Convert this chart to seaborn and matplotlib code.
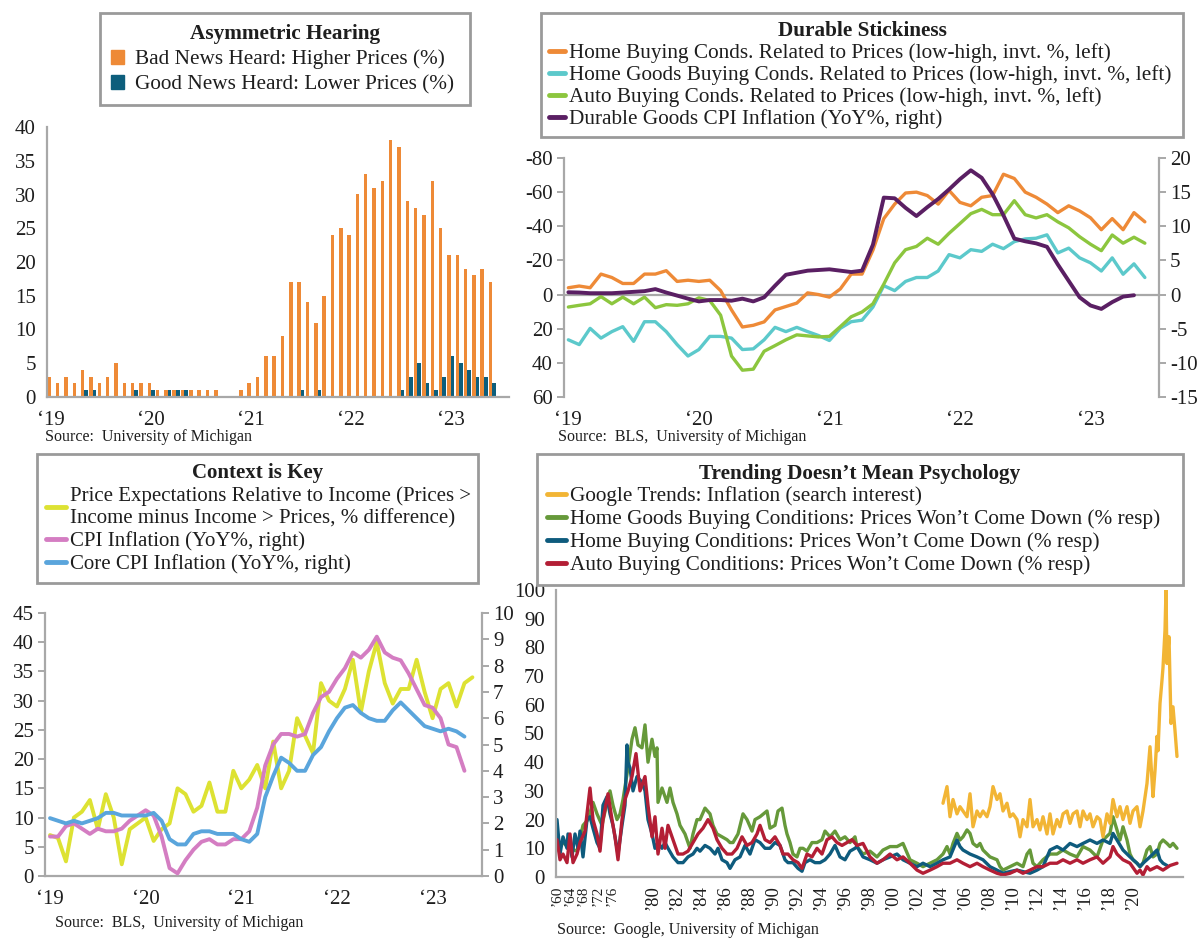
import numpy as np
import pandas as pd
import matplotlib
matplotlib.use("Agg")
import matplotlib.pyplot as plt
import seaborn as sns
from matplotlib.lines import Line2D
from matplotlib.patches import Patch

sns.set_theme(style="white")
plt.rcParams['font.family'] = ['Liberation Serif', 'DejaVu Serif']
plt.rcParams['axes.unicode_minus'] = False

# ---------------- DATA ----------------
# Panel 1: Asymmetric Hearing (monthly, Jan 2019 - Jun 2023)
p1_months = [d.strftime("%Y-%m") for d in pd.date_range("2019-01-01", periods=54, freq="MS")]
bad_news = [3, 2, 3, 2, 4, 3, 2, 3, 5, 2, 2, 2, 2, 1, 1, 1, 1, 1, 1, 1, 1, 0, 0, 1, 2, 3, 6, 6, 9, 17,
            17, 14, 11, 15, 24, 25, 24, 30, 33, 31, 32, 38, 37, 29, 28, 27, 32, 25, 21, 21, 19, 18, 19, 17]
good_news = [0, 0, 0, 0, 1, 1, 0, 0, 0, 0, 1, 0, 1, 0, 1, 1, 1, 0, 0, 0, 0, 0, 0, 0, 0, 0, 0, 0, 0, 0,
             1, 0, 1, 0, 0, 0, 0, 0, 0, 0, 0, 0, 1, 3, 5, 2, 1, 3, 6, 5, 4, 3, 3, 2]
year_labels = ['\u201819', '\u201820', '\u201821', '\u201822', '\u201823']

# Panel 2: Durable Stickiness (left axis inverted)
home_buy = [-4, -5, -4, -12, -10, -6.5, -6.5, -12, -12, -14, -7.7, -8.4, -7.7, -8.4, -2.3, 9, 19, 18, 16, 9,
            7, 5, -1, 0, 1.5, -3.3, -12, -12, -26, -44.5, -53, -59.5, -60, -58, -53, -61, -54, -52, -57, -58,
            -70.5, -68, -60, -57, -53, -48, -52, -49, -45, -38, -44.5, -38, -48, -42.6]
home_goods = [26.5, 29.3, 19.8, 25.5, 21.7, 18.8, 27.4, 15.9, 15.9, 21.7, 29.3, 36, 32.2, 24.5, 24.5, 25.5,
              32.2, 31.8, 26.5, 19.2, 21.7, 19.2, 21.7, 24, 26.9, 19.8, 15.9, 15, 7.3, -5.2, -2.3, -7.7, -10,
              -10, -13.8, -23.4, -21.5, -26.3, -25.3, -29.5, -26.9, -31, -32.6, -33, -35, -24.4, -27.2, -21.5,
              -18.6, -13.8, -21.5, -11.9, -18, -10]
auto_buy = [7.3, 6.3, 5.4, 1.2, 5.4, 1.5, 5.4, 1.5, 7.7, 5.9, 6.3, 5.4, 1.9, 3.5, 12.1, 36, 44.3, 43.7, 33.2,
            29.9, 26.5, 23.6, 24.2, 24.8, 24.5, 18.8, 13, 10.2, 5.4, -6.1, -18.6, -26.3, -28.2, -33, -29.5,
            -35.9, -41.6, -47.4, -49.9, -46.8, -46.8, -55, -46.8, -44.9, -46.8, -42.6, -39.1, -33.9, -29.5,
            -25.7, -34.9, -30.1, -33.6, -30.1]
durable_cpi = [0.34, 0.3, 0.2, 0.2, 0.2, 0.3, 0.4, 0.5, 0.8, 0.3, -0.15, -0.6, -1.0, -0.8, -0.8, -0.9, -0.6,
               -1.0, -0.4, 1.3, 2.9, 3.2, 3.5, 3.6, 3.7, 3.5, 3.3, 3.5, 7.3, 14.2, 14.1, 12.7, 11.5, 12.8, 14,
               15.4, 16.9, 18.2, 17.1, 14.7, 11.6, 8.2, 7.8, 7.5, 7.0, 4.4, 2.0, -0.4, -1.6, -2.1, -1.1, -0.3, -0.1]

# Panel 3: Context is Key
price_exp = [7, 6.5, 2.5, 10, 11, 13, 8, 14, 10, 2, 8, 9, 10, 6, 8, 9, 15, 14, 11, 12, 16, 11, 11, 18, 15,
             16.5, 19, 15, 23, 15, 18, 27, 24, 21, 33, 30, 29, 32, 37, 28, 35, 40, 33, 29.5, 32, 32, 37, 31.5,
             27, 32, 33, 29, 33, 34]
cpi = [1.5, 1.5, 1.9, 2.0, 1.8, 1.6, 1.8, 1.7, 1.7, 1.8, 2.1, 2.3, 2.5, 2.3, 1.5, 0.3, 0.1, 0.6, 1.0, 1.3,
       1.4, 1.2, 1.2, 1.4, 1.4, 1.7, 2.6, 4.2, 5.0, 5.4, 5.4, 5.3, 5.4, 6.2, 6.8, 7.0, 7.5, 7.9, 8.5, 8.3,
       8.6, 9.1, 8.5, 8.3, 8.2, 7.7, 7.1, 6.5, 6.4, 6.0, 5.0, 4.9, 4.0]
core_cpi = [2.2, 2.1, 2.0, 2.1, 2.0, 2.1, 2.2, 2.4, 2.4, 2.3, 2.3, 2.3, 2.3, 2.4, 2.1, 1.4, 1.2, 1.2, 1.6,
            1.7, 1.7, 1.6, 1.6, 1.6, 1.4, 1.3, 1.6, 3.0, 3.8, 4.5, 4.3, 4.0, 4.0, 4.6, 4.9, 5.5, 6.0, 6.4,
            6.5, 6.2, 6.0, 5.9, 5.9, 6.3, 6.6, 6.3, 6.0, 5.7, 5.6, 5.5, 5.6, 5.5, 5.3]

# Panel 4: Trending Doesn't Mean Psychology (x = survey observation number)
home_goods_wont = [(1, 10), (7, 12), (14, 10), (21, 9), (27, 18), (32, 20), (37, 26), (41, 22), (46, 18),
    (51, 26), (54, 30), (57, 25), (61, 20), (64, 22), (67, 27), (72, 38), (76, 48), (79, 52), (82, 46),
    (86, 45), (89, 53), (92, 40), (96, 48), (99, 42), (101, 45), (102, 26), (106, 31), (111, 26), (114, 31),
    (117, 26), (121, 22), (124, 18), (129, 15), (134, 10), (137, 15), (141, 20), (144, 20), (149, 24),
    (154, 22), (157, 18), (161, 15), (166, 14), (171, 13), (174, 12), (177, 12), (182, 15), (187, 22),
    (191, 20), (196, 16), (199, 20), (204, 21), (211, 23), (214, 17), (219, 18), (222, 23), (226, 24),
    (229, 18), (231, 15), (234, 12), (237, 8), (241, 7), (244, 10), (247, 10), (251, 9), (256, 12),
    (261, 12), (266, 13), (269, 16), (274, 14), (279, 16), (284, 13), (289, 14), (294, 12), (299, 14),
    (301, 10.6), (307, 8), (314, 9), (321, 7), (327, 9.4), (334, 10.6), (341, 10.6), (347, 11.7), (354, 6),
    (361, 4.8), (367, 3.6), (374, 4.8), (381, 6), (387, 8), (391, 10.6), (394, 8), (397, 11.7), (401, 15.2),
    (404, 12.9), (407, 14), (411, 16.4), (414, 15.2), (417, 11.7), (421, 10.6), (424, 11.7), (427, 9.4),
    (434, 7), (441, 6), (444, 3.6), (447, 2.4), (454, 3.6), (461, 4.8), (467, 3.6), (471, 8), (474, 9.4),
    (477, 4.8), (481, 3.6), (487, 6), (494, 8), (501, 8), (507, 9.4), (514, 8), (521, 7), (527, 10.6),
    (534, 9.4), (541, 7), (547, 12.9), (554, 15.2), (557, 21), (561, 16.4), (564, 12.9), (567, 17.5),
    (571, 12.9), (574, 8), (577, 6), (581, 4.8), (584, 3.6), (587, 4.8), (591, 9.4), (594, 10.6), (597, 7),
    (601, 8), (604, 11.7), (607, 12.9), (611, 11.7), (614, 10.6), (617, 11.7), (621, 10)]
home_wont = [(1, 20), (4, 8), (7, 14), (11, 10), (12, 15), (16, 7), (19, 15), (22, 10), (24, 16), (27, 7),
    (31, 20), (34, 21), (37, 17), (41, 12), (44, 10), (47, 25), (51, 28), (54, 22), (57, 18), (59, 14),
    (62, 8), (66, 18), (69, 25), (71, 46), (72, 40), (74, 38), (77, 30), (81, 35), (86, 33), (89, 30),
    (92, 20), (96, 15), (99, 10), (102, 12), (106, 10), (109, 12), (112, 10), (117, 7), (122, 5), (127, 5),
    (132, 7), (137, 8), (141, 10), (144, 9), (149, 11), (154, 10), (159, 8), (162, 10), (166, 6), (171, 5),
    (174, 3), (179, 6), (184, 7), (189, 11), (194, 8), (199, 13), (204, 12), (209, 10), (214, 10),
    (219, 12), (224, 11), (229, 6), (232, 5), (237, 5), (242, 3), (246, 2), (249, 5), (254, 6), (259, 5),
    (264, 5), (269, 6), (274, 8), (279, 11), (284, 7), (289, 6), (294, 9), (299, 10), (301, 10.6), (307, 7),
    (314, 6), (321, 4.8), (327, 6), (334, 7), (341, 8), (347, 6), (354, 4.8), (361, 3.6), (367, 4.8),
    (374, 3.6), (381, 4.8), (387, 6), (394, 7), (401, 12.9), (404, 10.6), (407, 9.4), (414, 8), (421, 7),
    (427, 6), (434, 3.6), (441, 2.4), (447, 1.3), (454, 1.9), (461, 2.4), (467, 1.9), (474, 1.3),
    (481, 2.4), (487, 3.6), (494, 9.4), (501, 10.6), (507, 9.4), (514, 11.7), (521, 10.6), (527, 11.7),
    (534, 12.9), (541, 11.7), (547, 12.9), (554, 11.7), (557, 15.2), (561, 12.9), (567, 9.4), (574, 7),
    (581, 4.8), (584, 3.6), (587, 4.8), (594, 7), (601, 9.4), (604, 6), (607, 4.8), (611, 4)]
auto_wont = [(1, 13), (4, 6), (7, 8), (11, 5), (14, 15), (17, 5), (21, 8), (24, 12), (29, 16), (34, 31),
    (37, 20), (41, 15), (44, 9), (47, 20), (52, 29), (56, 20), (59, 14), (62, 6), (66, 20), (69, 27),
    (72, 30), (76, 35), (80, 43), (84, 30), (89, 35), (92, 25), (96, 14), (99, 21), (102, 8), (106, 17),
    (109, 10), (112, 18), (117, 13), (122, 8), (127, 8), (132, 9), (137, 12), (142, 15), (147, 17),
    (152, 20), (157, 17), (161, 13), (166, 10), (171, 8), (176, 8), (181, 10), (186, 14), (191, 11),
    (196, 12), (201, 15), (204, 18), (209, 13), (214, 12), (219, 14), (224, 11), (227, 8), (232, 8),
    (237, 6), (242, 5), (246, 3), (251, 8), (256, 7), (261, 10), (266, 8), (271, 13), (276, 14), (281, 12),
    (286, 11), (291, 12), (296, 13), (301, 11), (307, 11.7), (314, 7), (321, 4.8), (327, 6), (334, 8),
    (341, 6), (347, 7), (354, 4.8), (361, 2.4), (367, 1.3), (374, 2.4), (381, 3.6), (387, 4.8), (394, 4.8),
    (401, 6), (407, 4.8), (414, 3.6), (421, 4.8), (427, 3.6), (434, 2.4), (441, 1.3), (447, 0.7),
    (454, 1.3), (461, 2.4), (467, 1.3), (474, 2.4), (481, 3.6), (487, 3.6), (494, 4.8), (501, 4.8),
    (507, 6), (514, 4.8), (521, 6), (527, 4.8), (534, 6), (541, 7), (547, 4.8), (554, 7), (557, 10.6),
    (561, 8), (567, 6), (574, 4.8), (581, 1.3), (584, 2.4), (587, 0.7), (591, 3.6), (594, 2.4), (601, 3.6),
    (607, 2.4), (614, 4), (621, 4.8)]
google_trends = [(387, 25.7), (391, 31.5), (394, 21), (397, 27), (401, 22), (404, 24.5), (407, 23), (411, 21),
    (414, 29), (417, 17.5), (421, 23), (424, 21), (427, 23), (431, 21), (434, 24.5), (437, 31.5), (441, 27),
    (444, 29), (447, 23), (451, 25.7), (454, 21), (457, 22), (461, 20), (464, 14), (467, 20), (471, 17.5),
    (474, 27), (477, 17.5), (481, 20), (484, 16.4), (487, 21), (491, 15), (494, 22), (497, 15), (501, 20),
    (504, 17.5), (507, 22), (511, 23), (514, 18.7), (517, 22), (521, 23), (524, 17.5), (527, 23), (531, 20),
    (534, 22), (537, 17.5), (541, 21), (544, 20), (547, 14), (551, 22), (554, 18.7), (557, 27), (561, 21),
    (564, 24.5), (567, 20), (571, 24.5), (574, 18.7), (577, 23), (581, 24.5), (584, 17.5), (587, 23),
    (591, 32.6), (594, 45.4), (596, 33.8), (597, 28), (599, 37), (601, 49), (602, 44), (604, 60.5),
    (606, 68.6), (607, 73), (609, 86), (610, 100), (611, 74.4), (613, 83.7), (615, 53.5), (617, 59.3),
    (619, 51), (621, 42)]
p4_tick_obs = [1, 14, 27, 42, 56, 97, 121, 145, 169, 193, 217, 241, 265, 289, 313, 337, 361, 385, 409,
               433, 457, 481, 505, 529, 553, 577]
p4_tick_labels = ['\u2019' + y for y in ['60', '64', '68', '72', '76', '80', '82', '84', '86', '88', '90',
                  '92', '94', '96', '98', '00', '02', '04', '06', '08', '10', '12', '14', '16', '18', '20']]

# ---------------- STYLE ----------------
W, H = 1200, 946
GRAY = '#A8A8A8'
TXT = '#1e1e1e'
C_ORANGE = '#EE8A37'
C_TEAL = '#0D5E7C'
C_CYAN = '#5CC9CB'
C_LGREEN = '#8CC63E'
C_PURPLE = '#5A1F63'
C_YELLOW = '#DDE233'
C_PINK = '#D47DC2'
C_BLUE = '#5AA5DC'
C_GOLD = '#F2B535'
C_GREEN = '#66993A'
C_NAVY = '#0E5B7D'
C_RED = '#B31E35'
TICK_FS = 15
LEG_FS = 15.3
SRC_FS = 11.5
XPAD = 10

fig = plt.figure(figsize=(12, 9.46), dpi=100)


def rect(x0, y0, x1, y1):
    return [x0 / W, 1 - y1 / H, (x1 - x0) / W, (y1 - y0) / H]


def style_ax(ax, left=True, right=False, bottom=True):
    for s in ['top', 'right', 'left', 'bottom']:
        ax.spines[s].set_visible(False)
    for s, on in [('left', left), ('right', right), ('bottom', bottom)]:
        if on:
            ax.spines[s].set_visible(True)
            ax.spines[s].set_color(GRAY)
            ax.spines[s].set_linewidth(1.6)
    ax.tick_params(axis='y', which='both', direction='out', length=5, width=1.4, color=GRAY,
                   labelsize=TICK_FS, labelcolor=TXT, pad=3)
    ax.tick_params(axis='x', length=0, labelsize=TICK_FS, labelcolor=TXT, pad=XPAD)
    ax.set_xlabel('')
    ax.set_ylabel('')
    ax.grid(False)


def box_legend(ax, handles, labels, title, x0, y0, x1, y1, hl=0.9, hh=0.7, ls=0.14, bp=0.45,
               tp=0.2, fs=LEG_FS):
    leg = ax.legend(handles, labels, title=title, loc='upper left',
                    bbox_to_anchor=(x0 / W, 1 - y1 / H, (x1 - x0) / W, (y1 - y0) / H),
                    bbox_transform=fig.transFigure, mode='expand', borderaxespad=0,
                    fontsize=fs, title_fontproperties={'weight': 'bold', 'size': fs},
                    handlelength=hl, handleheight=hh, handletextpad=tp, labelspacing=ls,
                    borderpad=bp, fancybox=False, framealpha=1, alignment='center')
    fr = leg.get_frame()
    fr.set_edgecolor('#9A9A9A')
    fr.set_linewidth(2)
    fr.set_facecolor('white')
    for t in leg.get_texts():
        t.set_color(TXT)
    leg.get_title().set_color(TXT)
    leg.set_zorder(10)
    return leg


# ---------------- PANEL 1 ----------------
ax1 = fig.add_axes(rect(47, 127, 509, 397))
df1 = pd.DataFrame({
    'month': p1_months * 2,
    'series': ['Bad News Heard: Higher Prices (%)'] * len(p1_months) +
              ['Good News Heard: Lower Prices (%)'] * len(p1_months),
    'value': bad_news + good_news,
})
sns.barplot(data=df1, x='month', y='value', hue='series', palette=[C_ORANGE, C_TEAL],
            saturation=1, width=0.85, linewidth=0, ax=ax1, legend=False)
ax1.set_xlim(-0.5, 55)
ax1.set_ylim(0, 40)
ax1.set_yticks(range(0, 41, 5))
ax1.set_xticks([0, 12, 24, 36, 48])
ax1.set_xticklabels(year_labels)
style_ax(ax1, left=True, bottom=True)
box_legend(ax1, [Patch(color=C_ORANGE), Patch(color=C_TEAL)],
           ['Bad News Heard: Higher Prices (%)', 'Good News Heard: Lower Prices (%)'],
           'Asymmetric Hearing', 100, 13, 470, 107, hl=0.65, hh=0.65, ls=0.27, bp=0.5, tp=0.5)
fig.text(45 / W, 1 - 429 / H, 'Source:  University of Michigan', fontsize=SRC_FS, color=TXT, va='top')

# ---------------- PANEL 2 ----------------
ax2 = fig.add_axes(rect(564, 158, 1159, 397))
m54 = np.arange(len(home_buy))
sns.lineplot(x=m54, y=home_goods, color=C_CYAN, lw=2.4, ax=ax2)
sns.lineplot(x=np.arange(len(auto_buy)), y=auto_buy, color=C_LGREEN, lw=2.4, ax=ax2)
sns.lineplot(x=m54, y=home_buy, color=C_ORANGE, lw=2.4, ax=ax2)
ax2.axhline(0, color=GRAY, lw=1.6, zorder=0.5)
ax2.set_ylim(60, -80)
ax2.set_yticks(range(-80, 61, 20))
ax2.set_xlim(-0.4, 54.3)
ax2.set_xticks([0, 12, 24, 36, 48])
ax2.set_xticklabels(year_labels)
style_ax(ax2, left=True, right=True, bottom=False)
ax2r = ax2.twinx()
sns.lineplot(x=np.arange(len(durable_cpi)), y=durable_cpi, color=C_PURPLE, lw=2.8, ax=ax2r)
ax2r.set_ylim(-15, 20)
ax2r.set_yticks(range(-15, 21, 5))
ax2r.set_xlim(-0.4, 54.3)
for s in ['top', 'left', 'bottom', 'right']:
    ax2r.spines[s].set_visible(False)
ax2r.tick_params(axis='y', direction='out', length=5, width=1.4, color=GRAY, labelsize=TICK_FS,
                 labelcolor=TXT, pad=3)
ax2r.set_ylabel('')
ax2r.grid(False)
box_legend(ax2, [Line2D([], [], color=c, lw=3.5) for c in [C_ORANGE, C_CYAN, C_LGREEN, C_PURPLE]],
           ['Home Buying Conds. Related to Prices (low-high, invt. %, left)',
            'Home Goods Buying Conds. Related to Prices (low-high, invt. %, left)',
            'Auto Buying Conds. Related to Prices (low-high, invt. %, left)',
            'Durable Goods CPI Inflation (YoY%, right)'],
           'Durable Stickiness', 541, 13, 1183, 137, hl=0.75, ls=0.1, bp=0.38)
fig.text(558 / W, 1 - 429 / H, 'Source:  BLS,  University of Michigan', fontsize=SRC_FS, color=TXT, va='top')

# ---------------- PANEL 3 ----------------
ax3 = fig.add_axes(rect(45, 613, 482, 876))
sns.lineplot(x=np.arange(len(price_exp)), y=price_exp, color=C_YELLOW, lw=2.8, ax=ax3)
ax3.set_ylim(0, 45)
ax3.set_yticks(range(0, 46, 5))
ax3.set_xlim(-0.63, 54.2)
ax3.set_xticks([0, 12, 24, 36, 48])
ax3.set_xticklabels(year_labels)
style_ax(ax3, left=True, right=True, bottom=True)
ax3r = ax3.twinx()
sns.lineplot(x=np.arange(len(cpi)), y=cpi, color=C_PINK, lw=2.8, ax=ax3r)
sns.lineplot(x=np.arange(len(core_cpi)), y=core_cpi, color=C_BLUE, lw=2.8, ax=ax3r)
ax3r.set_ylim(0, 10)
ax3r.set_yticks(range(0, 11, 1))
ax3r.set_xlim(-0.63, 54.2)
for s in ['top', 'left', 'bottom', 'right']:
    ax3r.spines[s].set_visible(False)
ax3r.tick_params(axis='y', direction='out', length=5, width=1.4, color=GRAY, labelsize=TICK_FS,
                 labelcolor=TXT, pad=3)
ax3r.set_ylabel('')
ax3r.grid(False)
box_legend(ax3, [Line2D([], [], color=c, lw=3.5) for c in [C_YELLOW, C_PINK, C_BLUE]],
           ['Price Expectations Relative to Income (Prices >\nIncome minus Income > Prices, % difference)',
            'CPI Inflation (YoY%, right)', 'Core CPI Inflation (YoY%, right)'],
           'Context is Key', 37, 454, 478, 585, hl=0.95, fs=15.0)
fig.text(55 / W, 1 - 915 / H, 'Source:  BLS,  University of Michigan', fontsize=SRC_FS, color=TXT, va='top')

# ---------------- PANEL 4 ----------------
ax4 = fig.add_axes(rect(556, 590, 1183, 877))
for pts, c in [(home_goods_wont, C_GREEN), (home_wont, C_NAVY), (auto_wont, C_RED), (google_trends, C_GOLD)]:
    d = pd.DataFrame(pts, columns=['obs', 'val'])
    sns.lineplot(data=d, x='obs', y='val', color=c, lw=2.4, ax=ax4)
ax4.set_xlim(0, 627)
ax4.set_ylim(0, 100)
ax4.set_yticks(range(0, 101, 10))
ax4.set_xticks(p4_tick_obs)
ax4.set_xticklabels(p4_tick_labels, rotation=90)
style_ax(ax4, left=True, bottom=True)
ax4.tick_params(axis='x', labelsize=13.5, pad=6)
for lab in ax4.get_xticklabels()[:5]:
    lab.set_fontsize(11)
box_legend(ax4, [Line2D([], [], color=c, lw=3.5) for c in [C_GOLD, C_GREEN, C_NAVY, C_RED]],
           ['Google Trends: Inflation (search interest)',
            'Home Goods Buying Conditions: Prices Won\u2019t Come Down (% resp)',
            'Home Buying Conditions: Prices Won\u2019t Come Down (% resp)',
            'Auto Buying Conditions: Prices Won\u2019t Come Down (% resp)'],
           'Trending Doesn\u2019t Mean Psychology', 537, 454, 1183, 582, hl=0.9)
fig.text(557 / W, 1 - 922 / H, 'Source:  Google, University of Michigan', fontsize=SRC_FS, color=TXT, va='top')

fig.savefig('out.png', dpi=100, facecolor='white')
